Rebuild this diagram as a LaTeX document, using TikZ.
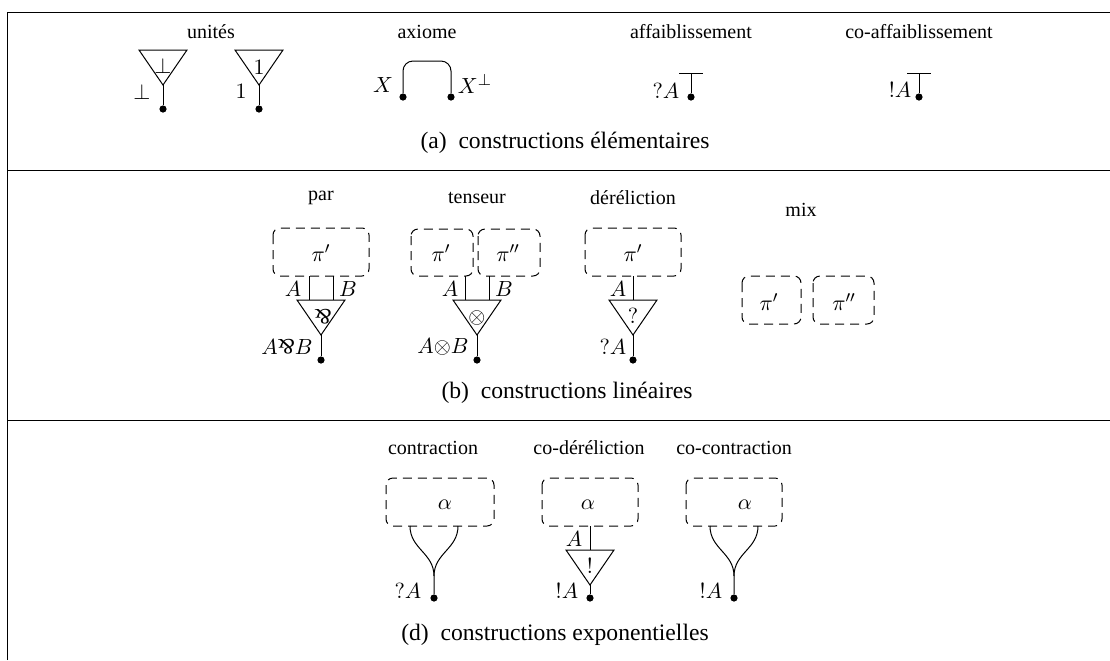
\documentclass[tikz,border=0pt]{standalone}
\usepackage{amsmath,amssymb}
\usepackage{fontspec}
\setmainfont{Liberation Serif}
\usepackage{tikz}
\newcommand{\parsym}{\mathbin{\rotatebox[origin=c]{180}{$\&$}}}
\tikzset{
  wire/.style={line width=0.5pt},
  box/.style={draw, rounded corners=3.5pt, line width=0.5pt, dash pattern=on 4.5pt off 3pt},
  port/.style={circle, fill=black, inner sep=0pt, minimum size=3.6pt},
  txt/.style={inner sep=0pt, font=\fontsize{10}{12}\selectfont},
  lab/.style={inner sep=0pt, font=\fontsize{11}{13}\selectfont},
  captxt/.style={inner sep=0pt, font=\fontsize{11.8}{14}\selectfont}
}
% triangle of a link, its tip at a coordinate and a wire to a port below it
\newcommand{\linktri}[4]{%
  \draw [wire] (#1-24,#2-35) -- (#1+24,#2-35) -- (#1,#2) -- cycle;
  \coordinate (#3tip) at (#1,#2);
  \node [port] (#3) at (#1,#2+#4) {};
  \draw [wire] (#3tip) -- (#3);
}
\begin{document}
\begin{tikzpicture}[x=0.5pt,y=-0.5pt]
  \useasboundingbox (0,0) rectangle (1110,660);
  % frame
  \draw [wire] (7,660) -- (7,12) -- (1110,12);
  \draw [wire] (7,170) -- (1110,170);
  \draw [wire] (7,420) -- (1110,420);
  % constructions elementaires
  \node [txt] (unites) at (211,32) {unités};
  \linktri{163}{85}{botport}{24}
  \node [lab] at (163,66) {$\bot$};
  \node [lab] (botlab) at (142,92) {$\bot$};
  \linktri{259}{85}{oneport}{24}
  \node [lab] at (259,67) {$1$};
  \node [lab] (onelab) at (241,91) {$1$};
  \node [txt] (axiome) at (427,32) {axiome};
  \node [port] (xport) at (403,97) {};
  \node [port] (xbport) at (451,97) {};
  \draw [wire, rounded corners=5pt] (xport) -- (403,61) -- (451,61) -- (xbport);
  \node [lab] (xlab) at (383,85) {$X$};
  \node [lab] (xblab) at (475,84) {$X^\bot$};
  \node [txt] (aff) at (691,32) {affaiblissement};
  \node [port] (wport) at (691,97) {};
  \coordinate (wtop) at (691,73);
  \draw [wire] (wport) -- (wtop);
  \draw [wire] (679,73) -- (703,73);
  \node [lab] (wlab) at (666,91) {$?A$};
  \node [txt] (coaff) at (919,32) {co-affaiblissement};
  \node [port] (cwport) at (919,97) {};
  \coordinate (cwtop) at (919,73);
  \draw [wire] (cwport) -- (cwtop);
  \draw [wire] (907,73) -- (931,73);
  \node [lab] (cwlab) at (900,90) {$!A$};
  \node [captxt] (capa) at (565,143) {(a)\ \ constructions élémentaires};
  % constructions lineaires
  \node [txt] (par) at (321,198) {par};
  \draw [box] (273,228) rectangle (369,276);
  \node [lab] (parpi) at (321,253) {$\pi'$};
  \draw [wire] (309,276) -- (309,300);
  \draw [wire] (333,276) -- (333,300);
  \node [lab] at (293,289) {$A$};
  \node [lab] at (348,289) {$B$};
  \linktri{321}{335}{parport}{25}
  \node [lab] at (323,317) {$\parsym$};
  \node [lab] (parlab) at (287,347) {$A{\parsym}B$};
  \node [txt] (tens) at (477,198) {tenseur};
  \draw [box] (411,229) rectangle (473,276);
  \draw [box] (478,229) rectangle (540,276);
  \node [lab] (tpi) at (441,253) {$\pi'$};
  \node [lab] (tpib) at (508,253) {$\pi''$};
  \draw [wire] (465,276) -- (465,300);
  \draw [wire] (489,276) -- (489,300);
  \node [lab] at (450,289) {$A$};
  \node [lab] at (504,289) {$B$};
  \linktri{477}{335}{tport}{25}
  \node [lab] at (477,318) {$\otimes$};
  \node [lab] (tlab) at (443,347) {$A{\otimes}B$};
  \node [txt] (der) at (633,198) {déréliction};
  \draw [box] (585,228) rectangle (681,276);
  \node [lab] (dpi) at (633,253) {$\pi'$};
  \draw [wire] (633,276) -- (633,300);
  \node [lab] at (618,289) {$A$};
  \linktri{633}{335}{dport}{25}
  \node [lab] at (633,316) {$?$};
  \node [lab] (dlab) at (613,347) {$?A$};
  \node [txt] (mix) at (801,210) {mix};
  \draw [box] (742,276) rectangle (801,324);
  \draw [box] (813,276) rectangle (874,324);
  \node [lab] (mpi) at (769,302) {$\pi'$};
  \node [lab] (mpib) at (844,302) {$\pi''$};
  \node [captxt] (capb) at (567,393) {(b)\ \ constructions linéaires};
  % constructions exponentielles
  \node [txt] (cont) at (433,448) {contraction};
  \draw [box] (386,478) rectangle (494,526);
  \node [lab] (cal) at (445,505) {$\alpha$};
  \node [port] (cport) at (434,598) {};
  \draw [wire] (cport) -- (434,576) .. controls (434,553) and (410,549) .. (410,526);
  \draw [wire] (434,576) .. controls (434,553) and (458,549) .. (458,526);
  \node [lab] (clab) at (408,591) {$?A$};
  \node [txt] (cod) at (589,448) {co-déréliction};
  \draw [box] (542,478) rectangle (638,526);
  \node [lab] (dal) at (588,505) {$\alpha$};
  \draw [wire] (590,526) -- (590,550);
  \node [lab] at (574,539) {$A$};
  \linktri{590}{585}{cdport}{13}
  \node [lab] at (590,566) {$!$};
  \node [lab] (cdlab) at (567,591) {$!A$};
  \node [txt] (coc) at (734,448) {co-contraction};
  \draw [box] (686,478) rectangle (782,526);
  \node [lab] (eal) at (745,505) {$\alpha$};
  \node [port] (eport) at (734,598) {};
  \draw [wire] (eport) -- (734,576) .. controls (734,553) and (710,549) .. (710,526);
  \draw [wire] (734,576) .. controls (734,553) and (758,549) .. (758,526);
  \node [lab] (elab) at (711,591) {$!A$};
  \node [captxt] (capd) at (555,635) {(d)\ \ constructions exponentielles};
\end{tikzpicture}
\end{document}
